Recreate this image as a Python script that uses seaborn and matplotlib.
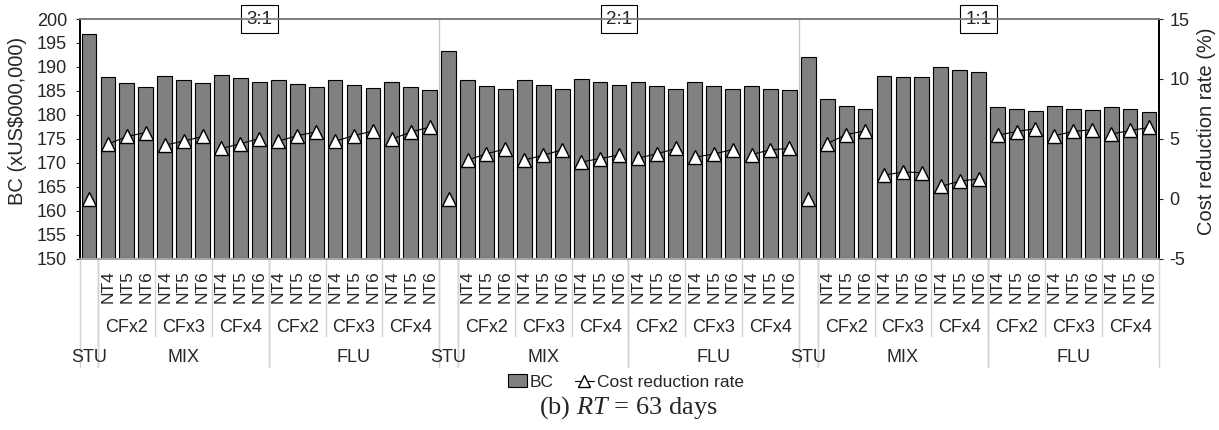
import matplotlib
matplotlib.use("Agg")
import matplotlib.pyplot as plt
import pandas as pd
import seaborn as sns
from matplotlib.lines import Line2D
from matplotlib.patches import Patch

OUT = "out.png"

RATIOS = ["3:1", "2:1", "1:1"]
DESIGNS = ["STU", "MIX", "FLU"]
CFS = ["CFx2", "CFx3", "CFx4"]
NTS = ["NT4", "NT5", "NT6"]

# order inside each ratio: STU, MIX CFx2 NT4..NT6, CFx3, CFx4, FLU CFx2.., CFx3, CFx4
BC_31 = [196.8,
         187.8, 186.6, 185.9, 188.0, 187.3, 186.6, 188.4, 187.6, 186.8,
         187.3, 186.5, 185.7, 187.3, 186.3, 185.6, 186.9, 185.9, 185.1]
BC_21 = [193.4,
         187.2, 186.1, 185.4, 187.2, 186.3, 185.4, 187.4, 186.9, 186.3,
         186.9, 186.1, 185.3, 186.9, 186.1, 185.4, 186.1, 185.4, 185.1]
BC_11 = [192.1,
         183.3, 181.9, 181.2, 188.2, 187.8, 187.8, 190.0, 189.3, 189.0,
         181.7, 181.3, 180.8, 181.9, 181.3, 181.0, 181.6, 181.2, 180.6]

RATE_31 = [0.0,
           4.55, 5.19, 5.52, 4.47, 4.80, 5.19, 4.19, 4.58, 5.02,
           4.80, 5.25, 5.58, 4.80, 5.27, 5.64, 4.97, 5.56, 5.97]
RATE_21 = [0.0,
           3.22, 3.74, 4.16, 3.22, 3.63, 4.08, 3.05, 3.35, 3.63,
           3.38, 3.74, 4.19, 3.47, 3.72, 4.10, 3.68, 4.08, 4.19]
RATE_11 = [0.0,
           4.60, 5.35, 5.66, 1.97, 2.22, 2.17, 1.02, 1.46, 1.65,
           5.30, 5.60, 5.85, 5.25, 5.62, 5.75, 5.39, 5.69, 5.94]

W, H = 1219, 430
AX_L, AX_R, AX_T, AX_B = 79.5, 1158.5, 19, 258.5
SEP = "#d4d4d4"


def yfrac(py):
    # pixel row -> axes fraction
    return (AX_B - py) / (AX_B - AX_T)


def xfrac(px):
    return (px - AX_L) / (AX_R - AX_L)


def build_frame():
    rows = []
    pos = 0
    for r, bc, rate in zip(RATIOS, [BC_31, BC_21, BC_11], [RATE_31, RATE_21, RATE_11]):
        i = 0
        rows.append(dict(ratio=r, design="STU", cf="", nt="", bc=bc[i], rate=rate[i],
                         pos=pos, seg=f"{r}-STU"))
        pos += 1
        i += 1
        for d in DESIGNS[1:]:
            for c in CFS:
                for n in NTS:
                    rows.append(dict(ratio=r, design=d, cf=c, nt=n, bc=bc[i], rate=rate[i],
                                     pos=pos, seg=f"{r}-{d}-{c}"))
                    pos += 1
                    i += 1
    return pd.DataFrame(rows)


def setup_style():
    sns.set_theme(style="white")
    plt.rcParams["font.family"] = ["Liberation Sans", "DejaVu Sans"]
    plt.rcParams["axes.unicode_minus"] = False
    plt.rcParams["mathtext.fontset"] = "custom"
    plt.rcParams["mathtext.rm"] = "Liberation Serif"
    plt.rcParams["mathtext.it"] = "Liberation Serif:italic"


def draw_category_axis(ax, df):
    tr = ax.get_xaxis_transform()
    for _, row in df.iterrows():
        if row["nt"]:
            ax.text(row["pos"], yfrac(270), row["nt"], rotation=90, ha="center", va="top",
                    fontsize=12.5, transform=tr, clip_on=False)
    for (seg, cf), g in df[df["cf"] != ""].groupby(["seg", "cf"], sort=False):
        ax.text(g["pos"].mean(), yfrac(327), cf, ha="center", va="center",
                fontsize=13, transform=tr, clip_on=False)
        lo = g["pos"].min() - 0.5
        ax.plot([lo, lo], [0, yfrac(336)], color=SEP, lw=1, transform=tr, clip_on=False)
    for (r, d), g in df.groupby(["ratio", "design"], sort=False):
        ax.text(g["pos"].mean(), yfrac(358), d, ha="center", va="center",
                fontsize=13, transform=tr, clip_on=False)
        lo, hi = g["pos"].min() - 0.5, g["pos"].max() + 0.5
        for x in (lo, hi):
            ax.plot([x, x], [0, yfrac(367)], color=SEP, lw=1, transform=tr, clip_on=False)
    for r, g in df.groupby("ratio", sort=False):
        hi = g["pos"].max() + 0.5
        if hi < df["pos"].max():
            ax.plot([hi, hi], [0, 1], color="#c8c8c8", lw=1, transform=tr, zorder=0)
        ax.text(g["pos"].mean(), 1.0, r, ha="center", va="center", fontsize=13.5,
                transform=tr, clip_on=False, zorder=5,
                bbox=dict(boxstyle="square,pad=0.28", fc="white", ec="black", lw=0.8))


def main():
    setup_style()
    df = build_frame()
    fig = plt.figure(figsize=(W / 100, H / 100), dpi=100)
    ax = fig.add_axes([AX_L / W, 1 - AX_B / H, (AX_R - AX_L) / W, (AX_B - AX_T) / H])

    sns.barplot(data=df, x="pos", y="bc", color="#808080", saturation=1,
                edgecolor="black", linewidth=0.8, width=0.78, ax=ax)
    ax.set_ylim(150, 200)
    ax.set_yticks(range(150, 201, 5))
    ax.set_xlim(-0.5, len(df) - 0.5)
    ax.set_xticks([])
    ax.set_xlabel("")
    ax.set_ylabel("BC (xUS$000,000)", fontsize=14.5)
    ax.yaxis.set_label_coords(xfrac(27), 0.574)
    ax.tick_params(axis="y", left=True, length=3, width=0.8, pad=6, labelsize=13)

    ax2 = ax.twinx()
    sns.lineplot(data=df, x="pos", y="rate", units="seg", estimator=None, sort=False,
                 color="black", lw=0.8, marker="^", markersize=10.5, markerfacecolor="white",
                 markeredgecolor="black", markeredgewidth=1, legend=False, ax=ax2)
    ax2.set_ylim(-5, 15)
    ax2.set_yticks(range(-5, 16, 5))
    ax2.set_xlim(-0.5, len(df) - 0.5)
    ax2.set_xlabel("")
    ax2.set_ylabel("Cost reduction rate (%)", fontsize=14.5)
    ax2.yaxis.set_label_coords(xfrac(1197), 0.532)
    ax2.tick_params(axis="y", right=True, length=3, width=0.8, pad=5, labelsize=13)

    for a in (ax, ax2):
        a.spines["left"].set_color("black")
        a.spines["right"].set_color("black")
        a.spines["top"].set_color("#7f7f7f")
        a.spines["top"].set_linewidth(1.3)
        a.spines["bottom"].set_color("#a6a6a6")
        a.grid(False)

    draw_category_axis(ax, df)

    handles = [
        Patch(facecolor="#808080", edgecolor="black", linewidth=0.8),
        Line2D([], [], color="black", lw=0.8, marker="^", markersize=9,
               markerfacecolor="white", markeredgecolor="black"),
    ]
    fig.legend(handles, ["BC", "Cost reduction rate"], loc="center", ncol=2,
               bbox_to_anchor=(626 / W, 1 - 382 / H), frameon=False, fontsize=12.5,
               handlelength=1.1, handletextpad=0.2, columnspacing=1.2, borderpad=0)
    fig.text(628 / W, 1 - 408 / H, r"(b) $\mathit{RT}$ = 63 days", ha="center", va="center",
             fontsize=19, family="Liberation Serif")

    fig.savefig(OUT, dpi=100)
    plt.close(fig)


if __name__ == "__main__":
    main()
